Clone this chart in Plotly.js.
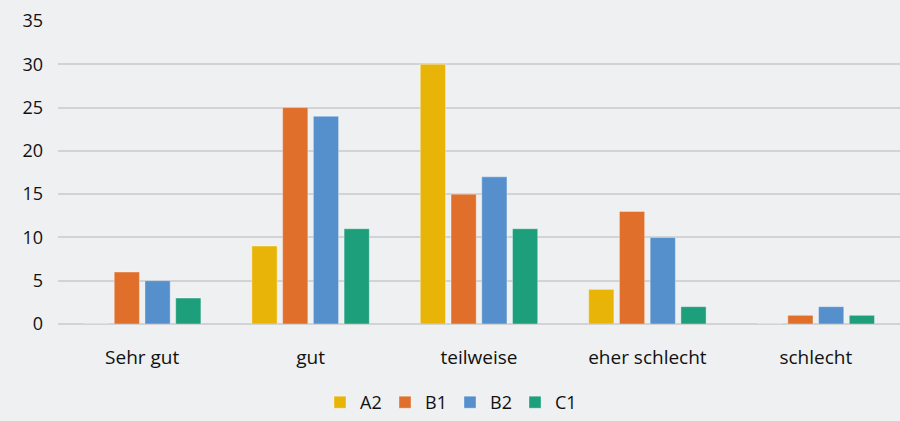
<!DOCTYPE html>
<html>
<head>
<meta charset="utf-8">
<script src="https://cdn.plot.ly/plotly-3.0.1.min.js"></script>
<style>
  html, body { margin: 0; padding: 0; background: #eef0f2; }
  #chart { width: 900px; height: 421px; }
</style>
</head>
<body>
<div id="chart"></div>
<script>
// Ratings per language level
const categories = ["Sehr gut", "gut", "teilweise", "eher schlecht", "schlecht"];
const seriesNames = ["A2", "B1", "B2", "C1"];
const valuesA2 = [0, 9, 30, 4, 0];
const valuesB1 = [6, 25, 15, 13, 1];
const valuesB2 = [5, 24, 17, 10, 2];
const valuesC1 = [3, 11, 11, 2, 1];
const yTicks = [0, 5, 10, 15, 20, 25, 30, 35];

const colors = ["#e8b408", "#e06f2c", "#5690cc", "#1e9f7c"];
const allValues = [valuesA2, valuesB1, valuesB2, valuesC1];

const traces = seriesNames.map((name, i) => ({
  type: "bar",
  name: name,
  x: categories,
  y: allValues[i],
  marker: { color: colors[i], line: { color: "rgba(255,255,255,0.35)", width: 1 } },
  hoverinfo: "x+y+name"
}));

const layout = {
  width: 900,
  height: 421,
  paper_bgcolor: "#eef0f2",
  plot_bgcolor: "#eef0f2",
  margin: { l: 58, r: 0, t: 21, b: 97 },
  barmode: "group",
  bargap: 0.27,
  bargroupgap: 0.18,
  font: { family: "Open Sans, Noto Sans, sans-serif", size: 18, color: "#111111" },
  xaxis: {
    type: "category",
    automargin: false,
    showgrid: false,
    zeroline: false,
    showline: false,
    ticks: "",
    ticklabelstandoff: 20,
    tickfont: { size: 19, color: "#111111" }
  },
  yaxis: {
    range: [0, 35],
    automargin: false,
    tickvals: yTicks,
    ticktext: yTicks.map(String),
    showgrid: true,
    gridcolor: "#d2d3d5",
    gridwidth: 2,
    zeroline: true,
    zerolinecolor: "#d2d3d5",
    zerolinewidth: 2,
    showline: false,
    ticks: "",
    ticklabelstandoff: 14,
    tickfont: { size: 18, color: "#111111" },
    fixedrange: true
  },
  showlegend: true,
  legend: {
    orientation: "h",
    xref: "container",
    yref: "container",
    x: 0.5,
    xanchor: "center",
    y: 0,
    yanchor: "bottom",
    font: { size: 18, color: "#111111" },
    bgcolor: "rgba(0,0,0,0)",
    itemwidth: 30,
    entrywidth: 20,
    entrywidthmode: "pixels",
    tracegroupgap: 0
  }
};

Plotly.newPlot("chart", traces, layout, { displayModeBar: false, staticPlot: true });
</script>
</body>
</html>
